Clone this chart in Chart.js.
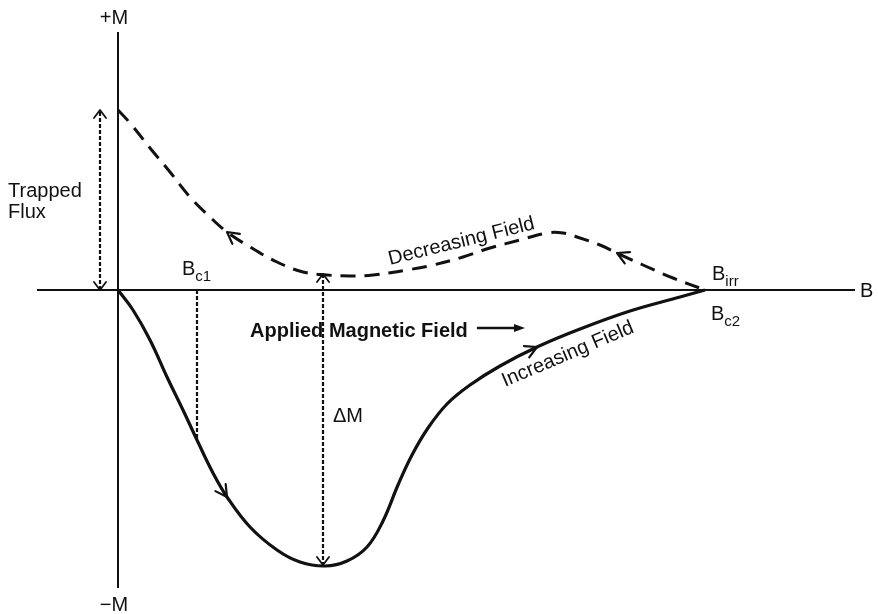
<!DOCTYPE html>
<html>
<head>
<meta charset="utf-8">
<script src="https://cdn.jsdelivr.net/npm/chart.js@4"></script>
<style>
    html, body { margin: 0; padding: 0; background: #fff; }
    #wrap { width: 878px; height: 614px; position: relative; }
</style>
</head>
<body>
<div id="wrap"><canvas id="chart"></canvas></div>
<script>
// --- DATA ---
// increasing field branch (solid), applied field B vs magnetisation M
const incB = [0, 0.15, 0.32, 0.49, 0.65, 0.79, 0.95, 1.09, 1.32, 1.59, 1.82, 2.07, 2.29, 2.49, 2.65, 2.80, 2.94, 3.10, 3.29, 3.52, 3.82, 4.19, 4.62, 5.12, 5.62, 5.87];
const incM = [0, -0.20, -0.50, -0.87, -1.20, -1.50, -1.83, -2.07, -2.37, -2.60, -2.72, -2.76, -2.71, -2.57, -2.31, -1.95, -1.65, -1.38, -1.14, -0.95, -0.76, -0.57, -0.39, -0.21, -0.07, 0];

// decreasing field branch (dashed)
const decB = [0, 0.12, 0.32, 0.52, 0.72, 0.92, 1.09, 1.32, 1.59, 1.85, 2.09, 2.32, 2.55, 2.89, 3.15, 3.45, 3.72, 4.02, 4.29, 4.45, 4.62, 4.82, 4.99, 5.25, 5.55, 5.87];
const decM = [1.80, 1.67, 1.42, 1.18, 0.93, 0.73, 0.58, 0.43, 0.28, 0.18, 0.15, 0.14, 0.15, 0.20, 0.25, 0.33, 0.42, 0.50, 0.57, 0.57, 0.52, 0.45, 0.37, 0.25, 0.12, 0];

// which points of each branch carry a direction arrow
const incArrowIdx = [7, 21];
const decArrowIdx = [6, 22];

// characteristic fields / guide lines
const trappedB = -0.18;          // where the trapped flux arrow stands
const bc1 = 0.79;                // lower critical field
const deltaB = 2.05;             // where delta M is measured
const deltaTop = 0.16;
const deltaBottom = -2.75;

// axes extents
const bAxis = [-0.81, 7.37];
const mAxis = [-2.98, 2.58];

// "Applied Magnetic Field ->" arrow
const fieldArrow = { b0: 3.60, b1: 4.07, m: -0.38 };

const labels = [
    { text: '+M', b: -0.04, m: 2.66, align: 'center' },
    { text: '\u2212M', b: -0.04, m: -3.21, align: 'center' },
    { text: 'B', b: 7.42, m: -0.07 },
    { text: 'Trapped', b: -1.10, m: 0.93 },
    { text: 'Flux', b: -1.10, m: 0.72 },
    { text: 'B', sub: 'c1', b: 0.64, m: 0.15 },
    { text: 'B', sub: 'irr', b: 5.94, m: 0.10 },
    { text: 'B', sub: 'c2', b: 5.93, m: -0.30 },
    { text: '\u0394M', b: 2.15, m: -1.32 },
    { text: 'Applied Magnetic Field', b: 1.32, m: -0.47, bold: true },
    { text: 'Decreasing Field', b: 2.72, m: 0.25, rot: -14 },
    { text: 'Increasing Field', b: 3.87, m: -0.97, rot: -23 }
];

const INK = '#111';
const FONT = '"Liberation Sans", Arial, Helvetica, sans-serif';

const pts = (xs, ys) => xs.map((x, i) => ({ x: x, y: ys[i] }));

function line(data, opts) {
    return Object.assign({
        data: data,
        showLine: true,
        borderColor: INK,
        borderWidth: 2,
        pointRadius: 0,
        fill: false,
        tension: 0
    }, opts || {});
}

// --- DRAW HELPERS ---
function chevron(ctx, x, y, ang, len, spread) {
    ctx.beginPath();
    ctx.moveTo(x - len * Math.cos(ang - spread), y - len * Math.sin(ang - spread));
    ctx.lineTo(x, y);
    ctx.lineTo(x - len * Math.cos(ang + spread), y - len * Math.sin(ang + spread));
    ctx.stroke();
}

const annotations = {
    id: 'annotations',
    afterDatasetsDraw(chart) {
        const ctx = chart.ctx;
        const sx = chart.scales.x, sy = chart.scales.y;
        const px = v => sx.getPixelForValue(v);
        const py = v => sy.getPixelForValue(v);

        ctx.save();
        ctx.strokeStyle = INK;
        ctx.fillStyle = INK;
        ctx.setLineDash([]);
        ctx.lineCap = 'round';
        ctx.lineJoin = 'round';

        // arrow heads on the dotted guides
        ctx.lineWidth = 1.8;
        chevron(ctx, px(trappedB), py(decM[0]), -Math.PI / 2, 10, 0.65);
        chevron(ctx, px(trappedB), py(0), Math.PI / 2, 10, 0.65);
        chevron(ctx, px(deltaB), py(deltaTop), -Math.PI / 2, 10, 0.65);
        chevron(ctx, px(deltaB), py(deltaBottom), Math.PI / 2, 10, 0.65);

        // direction arrows on the branches
        ctx.lineWidth = 2.2;
        const curveArrows = (meta, idx, reverse) => {
            idx.forEach(i => {
                const a = meta.data[i - 1], b = meta.data[i + 1], p = meta.data[i];
                let ang = Math.atan2(b.y - a.y, b.x - a.x);
                if (reverse) ang += Math.PI;
                chevron(ctx, p.x, p.y, ang, 13, 0.5);
            });
        };
        curveArrows(chart.getDatasetMeta(5), decArrowIdx, true);
        curveArrows(chart.getDatasetMeta(6), incArrowIdx, false);

        // applied field arrow
        const ax0 = px(fieldArrow.b0), ax1 = px(fieldArrow.b1), ay = py(fieldArrow.m);
        ctx.lineWidth = 2.5;
        ctx.beginPath();
        ctx.moveTo(ax0, ay);
        ctx.lineTo(ax1 - 8, ay);
        ctx.stroke();
        ctx.beginPath();
        ctx.moveTo(ax1, ay);
        ctx.lineTo(ax1 - 11, ay - 4);
        ctx.lineTo(ax1 - 11, ay + 4);
        ctx.closePath();
        ctx.fill();

        // labels
        ctx.textBaseline = 'alphabetic';
        labels.forEach(l => {
            ctx.save();
            ctx.translate(px(l.b), py(l.m));
            if (l.rot) ctx.rotate(l.rot * Math.PI / 180);
            ctx.font = (l.bold ? 'bold ' : '') + '20px ' + FONT;
            ctx.textAlign = l.align || 'left';
            ctx.fillText(l.text, 0, 0);
            if (l.sub) {
                const w = ctx.measureText(l.text).width;
                ctx.font = '15px ' + FONT;
                ctx.textAlign = 'left';
                ctx.fillText(l.sub, w, 6);
            }
            ctx.restore();
        });
        ctx.restore();
    }
};

// --- CHART ---
const dotted = { borderDash: [4, 2], borderWidth: 2.2 };

new Chart(document.getElementById('chart'), {
    type: 'scatter',
    data: {
        datasets: [
            line([{ x: bAxis[0], y: 0 }, { x: bAxis[1], y: 0 }]),
            line([{ x: 0, y: mAxis[0] }, { x: 0, y: mAxis[1] }]),
            line([{ x: trappedB, y: 0 }, { x: trappedB, y: decM[0] }], dotted),
            line([{ x: bc1, y: 0 }, { x: bc1, y: incM[incB.indexOf(bc1)] }], dotted),
            line([{ x: deltaB, y: deltaTop }, { x: deltaB, y: deltaBottom }], dotted),
            line(pts(decB, decM), { borderWidth: 3, borderDash: [15, 9], tension: 0.4 }),
            line(pts(incB, incM), { borderWidth: 3.2, tension: 0.4 })
        ]
    },
    options: {
        responsive: true,
        maintainAspectRatio: false,
        animation: false,
        layout: { padding: 0 },
        plugins: {
            legend: { display: false },
            tooltip: { enabled: false }
        },
        scales: {
            x: { type: 'linear', min: -1.18, max: 7.60, display: false },
            y: { type: 'linear', min: -3.24, max: 2.90, display: false }
        }
    },
    plugins: [annotations]
});
</script>
</body>
</html>
